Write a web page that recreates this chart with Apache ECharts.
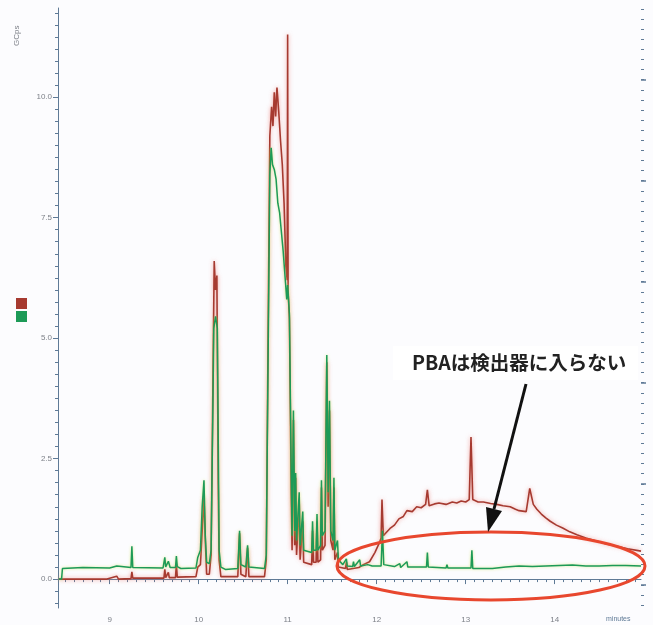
<!DOCTYPE html>
<html>
<head>
<meta charset="utf-8">
<script src="https://cdn.jsdelivr.net/npm/echarts@6/dist/echarts.min.js"></script>
<style>
  html, body { margin: 0; padding: 0; background: #fcfcfe; }
  #chromatogram { width: 653px; height: 625px; }
</style>
</head>
<body>
<div id="chromatogram"></div>
<script>
// retention time ticks (minutes) and intensity ticks
const xTicks = [9, 10, 11, 12, 13, 14];
const yTicks = [0, 2.5, 5, 7.5, 10];

// trace 1 (red) : [minutes, signal]
const traceRed = [
  [8.43, 0], [8.97, 0.0], [9.08, 0.06], [9.1, 0.0], [9.24, 0.01], [9.25, 0.15], [9.26, 0.02],
  [9.61, 0.02], [9.62, 0.2], [9.63, 0.03], [9.66, 0.14], [9.67, 0.03], [9.74, 0.03], [9.75, 0.3],
  [9.76, 0.04], [9.97, 0.05], [9.99, 0.25], [10.02, 0.3], [10.04, 1.0], [10.06, 1.7], [10.075, 0.8],
  [10.09, 0.1], [10.12, 0.1], [10.14, 0.5], [10.16, 4.0], [10.175, 6.6], [10.19, 6.0], [10.205, 6.3],
  [10.22, 2.0], [10.23, 0.4], [10.25, 0.05], [10.44, 0.05], [10.46, 0.95], [10.475, 0.1], [10.53, 0.05],
  [10.55, 0.65], [10.565, 0.05], [10.74, 0.05], [10.76, 0.4], [10.78, 5.0], [10.8, 9.2], [10.82, 9.8],
  [10.835, 9.4], [10.85, 10.1], [10.865, 9.6], [10.88, 10.2], [10.9, 9.7], [10.92, 9.1], [10.94, 8.6],
  [10.96, 7.8], [10.98, 6.5], [10.995, 6.2], [11.0, 11.3], [11.005, 6.0], [11.02, 5.4], [11.04, 1.8],
  [11.05, 0.6], [11.065, 3.3], [11.08, 0.7], [11.09, 2.1], [11.1, 0.5], [11.13, 1.6], [11.14, 0.4],
  [11.17, 1.2], [11.18, 0.35], [11.27, 0.3], [11.28, 1.0], [11.29, 0.35], [11.32, 0.35], [11.33, 1.2],
  [11.34, 0.35], [11.37, 0.4], [11.38, 1.9], [11.39, 0.6], [11.42, 0.7], [11.44, 4.5], [11.455, 1.5],
  [11.47, 3.5], [11.485, 0.8], [11.51, 0.6], [11.52, 1.9], [11.53, 0.4], [11.56, 0.55], [11.57, 0.25],
  [11.65, 0.22], [11.66, 0.35], [11.67, 0.2], [11.8, 0.24], [11.85, 0.3], [11.92, 0.36], [11.98, 0.55],
  [12.03, 0.75], [12.05, 0.85], [12.06, 1.65], [12.075, 0.9], [12.1, 0.95], [12.15, 1.05], [12.2, 1.12],
  [12.25, 1.25], [12.3, 1.3], [12.34, 1.42], [12.4, 1.4], [12.45, 1.5], [12.5, 1.48], [12.55, 1.55],
  [12.57, 1.85], [12.59, 1.52], [12.65, 1.56], [12.7, 1.58], [12.78, 1.55], [12.85, 1.6], [12.9, 1.58],
  [12.95, 1.62], [13.0, 1.6], [13.04, 1.65], [13.06, 2.95], [13.08, 1.65], [13.14, 1.6], [13.2, 1.6],
  [13.28, 1.57], [13.35, 1.55], [13.42, 1.52], [13.5, 1.5], [13.56, 1.45], [13.6, 1.42], [13.68, 1.4],
  [13.72, 1.88], [13.76, 1.55], [13.8, 1.45], [13.85, 1.35], [13.9, 1.27], [13.95, 1.2], [14.02, 1.12],
  [14.09, 1.06], [14.17, 0.98], [14.25, 0.92], [14.35, 0.85], [14.47, 0.79], [14.58, 0.73], [14.7, 0.68],
  [14.82, 0.63], [14.97, 0.58]
];

// trace 8 (green) : [minutes, signal]
const traceGreen = [
  [8.43, 0], [8.46, 0], [8.47, 0.22], [8.7, 0.24], [9.0, 0.23], [9.08, 0.27], [9.1, 0.24], [9.24, 0.24],
  [9.25, 0.68], [9.26, 0.24], [9.6, 0.23], [9.62, 0.45], [9.63, 0.25], [9.66, 0.37], [9.68, 0.24],
  [9.74, 0.24], [9.75, 0.48], [9.76, 0.26], [9.8, 0.22], [9.97, 0.23], [9.99, 0.45], [10.02, 0.6],
  [10.04, 1.5], [10.06, 2.05], [10.075, 0.9], [10.09, 0.35], [10.12, 0.32], [10.14, 0.6], [10.16, 3.5],
  [10.17, 5.2], [10.19, 5.45], [10.21, 5.2], [10.22, 3.0], [10.23, 0.6], [10.25, 0.25], [10.3, 0.2],
  [10.44, 0.22], [10.46, 1.0], [10.475, 0.3], [10.53, 0.25], [10.55, 0.7], [10.565, 0.25], [10.74, 0.22],
  [10.76, 0.5], [10.78, 4.5], [10.8, 8.4], [10.815, 8.95], [10.83, 8.6], [10.85, 8.5], [10.87, 8.3],
  [10.89, 7.8], [10.91, 7.6], [10.93, 7.2], [10.95, 6.8], [10.97, 6.3], [10.99, 5.8], [11.0, 6.1],
  [11.02, 5.5], [11.04, 2.3], [11.05, 0.9], [11.065, 3.5], [11.08, 1.0], [11.09, 2.2], [11.1, 0.8],
  [11.13, 1.8], [11.14, 0.7], [11.17, 1.4], [11.18, 0.6], [11.27, 0.55], [11.28, 1.2], [11.29, 0.6],
  [11.32, 0.6], [11.33, 1.35], [11.34, 0.6], [11.37, 0.7], [11.38, 2.05], [11.39, 0.9], [11.42, 1.0],
  [11.44, 4.65], [11.455, 1.8], [11.47, 3.7], [11.485, 1.0], [11.51, 0.8], [11.52, 2.1], [11.53, 0.6],
  [11.56, 0.8], [11.57, 0.4], [11.62, 0.3], [11.66, 0.42], [11.67, 0.27], [11.73, 0.26], [11.74, 0.36],
  [11.75, 0.26], [11.81, 0.4], [11.82, 0.27], [11.9, 0.3], [11.95, 0.27], [12.05, 0.27], [12.065, 1.0],
  [12.08, 0.3], [12.2, 0.26], [12.26, 0.32], [12.27, 0.24], [12.34, 0.36], [12.35, 0.25], [12.56, 0.25],
  [12.57, 0.55], [12.58, 0.25], [12.78, 0.23], [12.79, 0.3], [12.8, 0.23], [13.06, 0.23], [13.07, 0.6],
  [13.08, 0.22], [13.3, 0.22], [13.45, 0.25], [13.6, 0.27], [13.75, 0.26], [13.9, 0.27], [14.05, 0.28],
  [14.2, 0.29], [14.35, 0.27], [14.5, 0.27], [14.65, 0.28], [14.8, 0.28], [14.97, 0.27]
];

const names = ["1", "8"];

// minor tick positions
const xMinor = [];
for (let v = 85; v <= 149; v++) xMinor.push(v / 10);
const yMinor = [];
for (let v = -2; v <= 47; v++) yMinor.push(v / 4);
const rMinor = [];
for (let v = -2; v <= 57; v++) rMinor.push(v / 10);
const rMajor = [0, 1, 2, 3, 4, 5];

const axisColor = "#5f7a96";
const labelColor = "#7d8088";
const box = { left: 58, right: 12, top: 8, bottom: 17 };

// helper for an extra, tick-only axis
function tickAxis(kind, gridIndex, min, max, position, values, len, lw) {
  return {
    type: "value", gridIndex: gridIndex, min: min, max: max, position: position,
    axisLine: { show: false },
    axisTick: { show: values.length > 0, customValues: values, length: len,
      lineStyle: { color: axisColor, width: lw || 1 } },
    axisLabel: { show: false },
    splitLine: { show: false }
  };
}

const chart = echarts.init(document.getElementById("chromatogram"));

const option = {
  backgroundColor: "#fcfcfe",
  animation: false,
  grid: [box, box, box, box],
  legend: {
    orient: "vertical",
    left: 11,
    top: 293,
    itemWidth: 11,
    itemHeight: 11,
    itemGap: 2,
    icon: "rect",
    formatter: function () { return ""; },
    data: names
  },
  xAxis: [
    {
      type: "value", gridIndex: 0, min: 8.42, max: 14.97,
      axisLine: { lineStyle: { color: axisColor, width: 1 } },
      axisTick: { customValues: xTicks, length: 5, lineStyle: { color: axisColor } },
      axisLabel: { customValues: xTicks, color: labelColor, fontSize: 8, margin: 8,
        formatter: function (v) { return String(v); } },
      splitLine: { show: false }
    },
    tickAxis("x", 1, 8.42, 14.97, "bottom", xMinor, 3),
    tickAxis("x", 2, 8.42, 14.97, "bottom", [], 0),
    tickAxis("x", 3, 8.42, 14.97, "bottom", [], 0)
  ],
  yAxis: [
    {
      type: "value", gridIndex: 0, min: -0.6, max: 11.85,
      axisLine: { show: true, lineStyle: { color: axisColor, width: 1 } },
      axisTick: { show: true, customValues: yTicks, length: 5, lineStyle: { color: axisColor } },
      axisLabel: { customValues: yTicks, color: labelColor, fontSize: 8, margin: 6,
        formatter: function (v) { return v.toFixed(1); } },
      splitLine: { show: false }
    },
    tickAxis("y", 1, -0.6, 11.85, "left", yMinor, 3),
    tickAxis("y", 2, -0.23, 5.71, "right", rMinor, 3),
    tickAxis("y", 3, -0.23, 5.71, "right", rMajor, 5, 1.5)
  ],
  series: [
    {
      name: names[0], type: "line", data: traceRed, showSymbol: false,
      xAxisIndex: 0, yAxisIndex: 0, z: 2,
      color: "#a63a30",
      lineStyle: { color: "#a63a30", width: 1.6, shadowColor: "rgba(236,120,110,0.7)", shadowBlur: 4 }
    },
    {
      name: names[1], type: "line", data: traceGreen, showSymbol: false,
      xAxisIndex: 0, yAxisIndex: 0, z: 3,
      color: "#1d9a57",
      lineStyle: { color: "#1d9a57", width: 1.5, shadowColor: "rgba(200,225,70,0.6)", shadowBlur: 3 }
    }
  ],
  graphic: [
    { type: "text", x: 13, y: 46, rotation: Math.PI / 2,
      style: { text: "GCps", fill: labelColor, fontSize: 8, fontFamily: "sans-serif" } },
    { type: "text", x: 606, y: 616,
      style: { text: "minutes", fill: axisColor, fontSize: 7, fontFamily: "sans-serif" } },
    { type: "ellipse", z: 100,
      shape: { cx: 491, cy: 566, rx: 154, ry: 34 },
      style: { fill: null, stroke: "#e8472e", lineWidth: 3 } },
    { type: "rect", z: 100,
      shape: { x: 393, y: 346, width: 245, height: 34 },
      style: { fill: "#ffffff" } },
    { type: "text", z: 101, x: 412, y: 363,
      style: { text: "PBAは検出器に入らない", fill: "#222222", fontSize: 19.5, fontWeight: "bold",
        fontFamily: "Noto Sans CJK JP", verticalAlign: "middle" } },
    { type: "line", z: 101,
      shape: { x1: 526, y1: 384, x2: 494, y2: 509 },
      style: { stroke: "#111111", lineWidth: 3 } },
    { type: "polygon", z: 101,
      shape: { points: [[488, 532], [502, 511], [486, 507]] },
      style: { fill: "#111111" } }
  ]
};

chart.setOption(option);
</script>
</body>
</html>
